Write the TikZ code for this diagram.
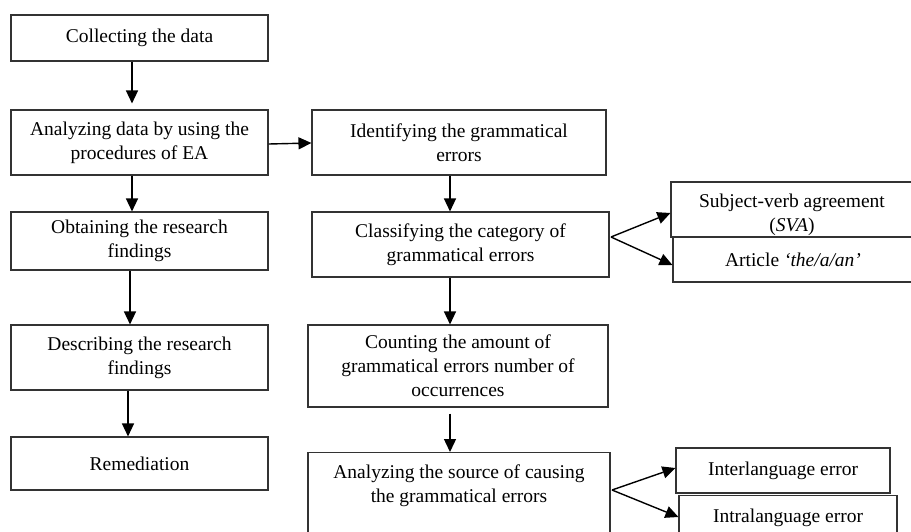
\documentclass[tikz,border=0pt]{standalone}
\usepackage{fontspec}
\setmainfont{Liberation Serif}
\usetikzlibrary{arrows.meta}
\begin{document}
\begin{tikzpicture}[x=1pt,y=-1pt,
  box/.style={draw=black!80, line width=1.1pt, align=center, inner sep=0pt,
    font=\fontsize{19.5}{24}\selectfont},
  arr/.style={line width=1.4pt, -{Triangle[length=13pt,width=12pt]}}]
\useasboundingbox (0,0) rectangle (911,531);
% left column
\node[box, minimum width=257, minimum height=46] (collect) at (139.5,38) {Collecting the data};
\node[box, minimum width=257, minimum height=65] (analyze) at (139.5,142.5) {Analyzing data by using the\\procedures of EA};
\node[box, minimum width=257, minimum height=58] (obtain) at (139.5,241) {Obtaining the research\\findings};
\node[box, minimum width=257, minimum height=65] (describe) at (139.5,357.5) {Describing the research\\findings};
\node[box, minimum width=257, minimum height=53] (remed) at (139.5,463.5) {Remediation};
% middle column
\node[box, minimum width=294, minimum height=65] (ident) at (459,142.5) {Identifying the grammatical\\errors};
\node[box, minimum width=297, minimum height=65] (classify) at (460.5,244.5) {Classifying the category of\\grammatical errors};
\node[box, minimum width=300, minimum height=82] (count) at (458,366) {Counting the amount of\\grammatical errors number of\\occurrences};
\node[box, minimum width=302, anchor=north, inner ysep=12pt, text depth=50pt] (source) at (459,452)
  {Analyzing the source of causing\\the grammatical errors};
% right column
\node[box, minimum width=242, minimum height=55, text depth=0pt] (sva) at (792,209.5) {\rule{0pt}{20pt}Subject-verb agreement\\(\textit{SVA})};
\node[box, minimum width=240, minimum height=45] (article) at (793,259.5) {Article \textit{‘the/a/an’}};
\node[box, minimum width=214, minimum height=45] (inter) at (783,470.5) {Interlanguage error};
\node[box, minimum width=218, anchor=north, inner ysep=13pt, text depth=30pt] (intra) at (788,495) {Intralanguage error};
% connectors
\draw[arr] (collect.south -| 132,0) -- ([yshift=6pt]analyze.north -| 132,0);
\draw[arr] (analyze.south -| 132,0) -- (obtain.north -| 132,0);
\draw[arr] (analyze.east |- 0,144) -- (ident.west |- 0,143);
\draw[arr] (ident.south -| 450,0) -- (classify.north -| 450,0);
\draw[arr] (obtain.south -| 130,0) -- (describe.north -| 130,0);
\draw[arr] (describe.south -| 128,0) -- (remed.north -| 128,0);
\draw[arr] (classify.south -| 450,0) -- (count.north -| 450,0);
\draw[arr] ([yshift=-6pt]count.south -| 450,0) -- (source.north -| 450,0);
\coordinate (c1) at (611,237);
\draw[arr] (c1) -- (sva.west |- 0,213);
\draw[arr] (c1) -- (article.west |- 0,265);
\coordinate (c2) at (612,490);
\draw[arr] (c2) -- (inter.west |- 0,468);
\draw[arr] (c2) -- (intra.west |- 0,517);
\end{tikzpicture}
\end{document}
